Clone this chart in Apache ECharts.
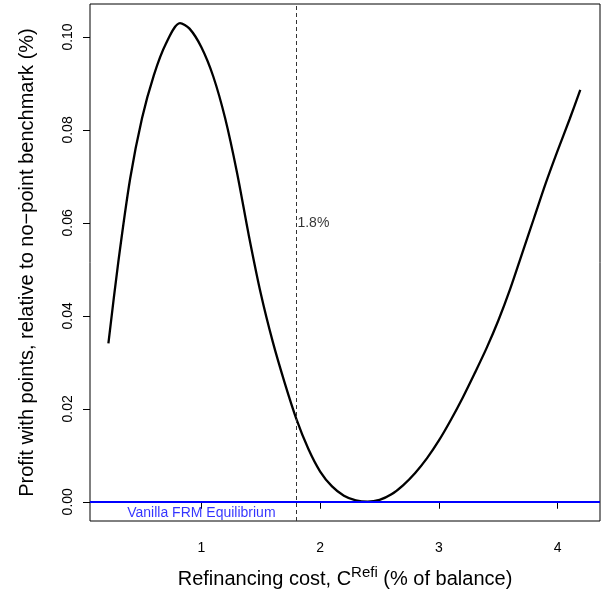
<!DOCTYPE html>
<html>
<head>
<meta charset="utf-8">
<script src="https://cdn.jsdelivr.net/npm/echarts@6/dist/echarts.min.js"></script>
<style>
html,body{margin:0;padding:0;background:#fff;}
#chart{width:608px;height:594px;}
</style>
</head>
<body>
<div id="chart"></div>
<script>
// Data
var refiCost = [0.217, 0.3, 0.4, 0.5, 0.6, 0.7, 0.82, 0.9, 1.0, 1.1, 1.2, 1.3, 1.4, 1.5, 1.6, 1.7, 1.8, 1.9, 2.0, 2.1, 2.2, 2.3, 2.4, 2.5, 2.6, 2.7, 2.8, 2.9, 3.0, 3.1, 3.2, 3.3, 3.4, 3.5, 3.6, 3.7, 3.8, 3.9, 4.0, 4.1, 4.19];
var profit   = [0.0341, 0.0515, 0.0695, 0.0825, 0.0918, 0.0985, 0.1030, 0.1018, 0.0978, 0.0915, 0.0825, 0.0708, 0.0572, 0.0448, 0.0345, 0.0257, 0.0178, 0.0114, 0.0065, 0.0033, 0.0013, 0.0003, 0.0, 0.0004, 0.0016, 0.0036, 0.0062, 0.0094, 0.0132, 0.0176, 0.0224, 0.0276, 0.0330, 0.0390, 0.0458, 0.0534, 0.0610, 0.0686, 0.0756, 0.0823, 0.0886];
var xTicks = [1, 2, 3, 4];
var yTicks = [0, 0.02, 0.04, 0.06, 0.08, 0.10];
var vlineX = 1.8;
var vlineLabel = '1.8%';
var hlineY = 0;
var hlineLabel = 'Vanilla FRM Equilibrium';
var xTitle = 'Refinancing cost, C';
var xTitleSup = 'Refi';
var xTitleTail = ' (% of balance)';
var yTitle = 'Profit with points, relative to no\u2212point benchmark (%)';

var curve = refiCost.map(function (x, i) { return [x, profit[i]]; });
var FONT = 'Liberation Sans, Arial, Helvetica, sans-serif';

var chart = echarts.init(document.getElementById('chart'), null, {renderer: 'canvas'});
chart.setOption({
  animation: false,
  backgroundColor: '#fff',
  grid: {left: 90, right: 8, top: 4, bottom: 72, show: true, borderColor: '#000', borderWidth: 1, backgroundColor: 'transparent'},
  xAxis: {
    type: 'value', min: 0.0621, max: 4.356,
    axisLine: {show: false},
    splitLine: {show: false},
    axisTick: {show: true, inside: false, length: 7, lineStyle: {color: '#000', width: 1}, customValues: xTicks},
    axisLabel: {show: true, margin: 20, color: '#000', fontSize: 14, fontFamily: FONT, customValues: xTicks,
      formatter: function (v) { return String(v); }},
    name: '{a|' + xTitle + '}{s|' + xTitleSup + '}{a|' + xTitleTail + '}',
    nameLocation: 'middle', nameGap: 44,
    nameTextStyle: {rich: {
      a: {fontSize: 20, fontFamily: FONT, color: '#000', verticalAlign: 'bottom', lineHeight: 24},
      s: {fontSize: 15, fontFamily: FONT, color: '#000', verticalAlign: 'bottom', lineHeight: 24, padding: [0, 0, 9, 0]}
    }}
  },
  yAxis: {
    type: 'value', min: -0.00414, max: 0.1071,
    axisLine: {show: false},
    splitLine: {show: false},
    axisTick: {show: true, inside: false, length: 7, lineStyle: {color: '#000', width: 1}, customValues: yTicks},
    axisLabel: {show: true, margin: 15, rotate: 90, color: '#000', fontSize: 14, fontFamily: FONT, customValues: yTicks,
      formatter: function (v) { return v.toFixed(2); }},
    name: yTitle, nameLocation: 'middle', nameGap: 53, nameRotate: 90,
    nameTextStyle: {fontSize: 20, fontFamily: FONT, color: '#000'}
  },
  series: [
    {
      type: 'line', data: curve, smooth: 0.3, showSymbol: false, symbol: 'none',
      lineStyle: {color: '#000', width: 2.3}, z: 3,
      markLine: {
        silent: true, symbol: ['none', 'none'], label: {show: false},
        data: [
          {xAxis: vlineX, lineStyle: {color: '#333', width: 1, type: [4, 3]}},
          {yAxis: hlineY, lineStyle: {color: '#0000ff', width: 2, type: 'solid'}}
        ]
      }
    },
    {
      type: 'scatter', symbolSize: 0, silent: true, z: 5,
      data: [{value: [vlineX, 0.06]}],
      label: {show: true, position: 'right', distance: 1, formatter: vlineLabel, color: '#000', fontSize: 14, fontFamily: FONT}
    },
    {
      type: 'scatter', symbolSize: 0, silent: true, z: 5,
      data: [{value: [1, -0.0025]}],
      label: {show: true, position: 'inside', formatter: hlineLabel, color: '#0000ff', fontSize: 14, fontFamily: FONT}
    }
  ]
});
</script>
</body>
</html>
